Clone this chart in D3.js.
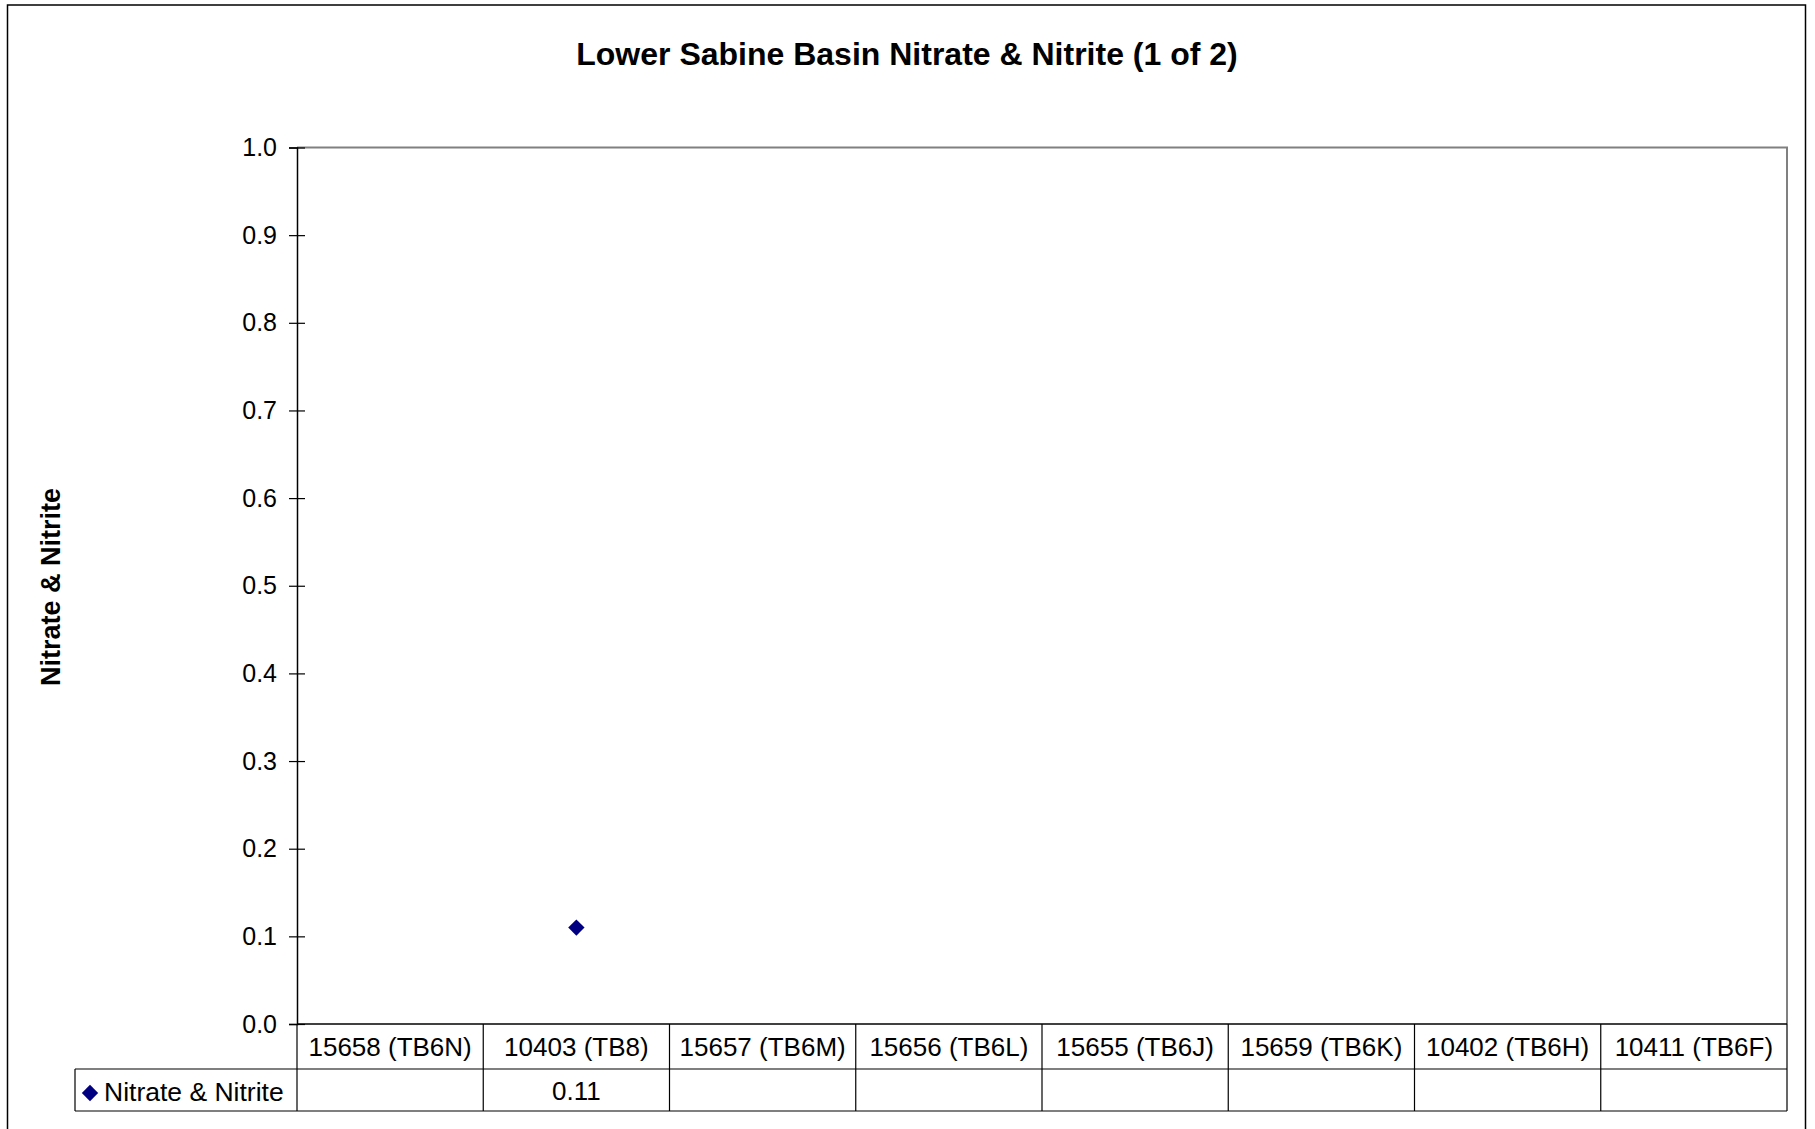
<!DOCTYPE html>
<html>
<head>
<meta charset="utf-8">
<script src="https://cdn.jsdelivr.net/npm/d3@7"></script>
<style>
  body { margin: 0; background: #fff; }
  svg { display: block; font-family: "Liberation Sans", Arial, sans-serif; }
</style>
</head>
<body>
<div id="chart"></div>
<script>
// data
var categories = ["15658 (TB6N)", "10403 (TB8)", "15657 (TB6M)", "15656 (TB6L)",
                  "15655 (TB6J)", "15659 (TB6K)", "10402 (TB6H)", "10411 (TB6F)"];
var seriesName = "Nitrate & Nitrite";
var values = [null, 0.11, null, null, null, null, null, null];
var yTicks = [0, 0.1, 0.2, 0.3, 0.4, 0.5, 0.6, 0.7, 0.8, 0.9, 1.0];

var W = 1815, H = 1129;
var plot = {left: 297, top: 147.5, right: 1787, bottom: 1024};
var rowH1 = 45, rowH2 = 42, legendLeft = 75;

var svg = d3.select("#chart").append("svg")
    .attr("width", W)
    .attr("height", H);

// outer frame
svg.append("rect")
    .attr("x", 7.5).attr("y", 5)
    .attr("width", 1798).attr("height", H + 10)
    .attr("fill", "none").attr("stroke", "#000").attr("stroke-width", 1.5);

// title
svg.append("text")
    .text("Lower Sabine Basin Nitrate & Nitrite (1 of 2)")
    .attr("x", 907).attr("y", 65)
    .attr("text-anchor", "middle")
    .style("font-weight", "bold")
    .style("font-size", "32px");

var x = d3.scaleBand()
    .domain(categories)
    .range([plot.left, plot.right])
    .padding(0);

var y = d3.scaleLinear()
    .domain([0, 1])
    .range([plot.bottom, plot.top]);

// plot area border (gray top/right)
svg.append("path")
    .attr("d", "M" + plot.left + "," + plot.top + "H" + plot.right + "V" + plot.bottom)
    .attr("fill", "none").attr("stroke", "#808080").attr("stroke-width", 2);

// Y axis
var yAxis = svg.append("g")
    .attr("transform", "translate(" + plot.left + ",0)")
    .call(d3.axisLeft(y).tickValues(yTicks).tickFormat(d3.format(".1f")).tickSize(8));
yAxis.select(".domain").attr("stroke", "#000").attr("stroke-width", 1.5);
yAxis.selectAll(".tick line").attr("x1", 8).attr("x2", -8).attr("stroke", "#000").attr("stroke-width", 1.2);
yAxis.selectAll(".tick text")
    .attr("x", -20)
    .style("font-size", "25px")
    .style("font-family", "Liberation Sans, Arial, sans-serif")
    .attr("fill", "#000");

// y axis title
svg.append("text")
    .text(seriesName)
    .attr("transform", "translate(60,587) rotate(-90)")
    .attr("text-anchor", "middle")
    .style("font-weight", "bold")
    .style("font-size", "27px");

// data table
var table = svg.append("g");
var tBottom = plot.bottom + rowH1 + rowH2;
// horizontal lines
table.append("line")
    .attr("x1", plot.left).attr("x2", plot.right)
    .attr("y1", plot.bottom).attr("y2", plot.bottom)
    .attr("stroke", "#000").attr("stroke-width", 1.5);
table.append("line")
    .attr("x1", legendLeft).attr("x2", plot.right)
    .attr("y1", plot.bottom + rowH1).attr("y2", plot.bottom + rowH1)
    .attr("stroke", "#000").attr("stroke-width", 1.2);
table.append("line")
    .attr("x1", legendLeft).attr("x2", plot.right)
    .attr("y1", tBottom).attr("y2", tBottom)
    .attr("stroke", "#000").attr("stroke-width", 1.2);
// vertical lines
var vx = [legendLeft, plot.left].concat(categories.map(function(c) { return x(c) + x.bandwidth(); }));
table.selectAll("line.v")
  .data(vx)
  .enter()
  .append("line")
    .attr("class", "v")
    .attr("x1", function(d) { return d; }).attr("x2", function(d) { return d; })
    .attr("y1", function(d) { return d === legendLeft ? plot.bottom + rowH1 : plot.bottom; })
    .attr("y2", tBottom)
    .attr("stroke", "#000").attr("stroke-width", 1.2);

// category labels
table.selectAll("text.cat")
  .data(categories)
  .enter()
  .append("text")
    .attr("class", "cat")
    .attr("x", function(d) { return x(d) + x.bandwidth() / 2; })
    .attr("y", plot.bottom + 32)
    .attr("text-anchor", "middle")
    .style("font-size", "26px")
    .text(function(d) { return d; });

// value cells
table.selectAll("text.val")
  .data(values)
  .enter()
  .append("text")
    .attr("class", "val")
    .attr("x", function(d, i) { return x(categories[i]) + x.bandwidth() / 2; })
    .attr("y", plot.bottom + rowH1 + 31)
    .attr("text-anchor", "middle")
    .style("font-size", "26px")
    .text(function(d) { return d == null ? "" : d; });

// legend key
var diamond = d3.symbol().type(d3.symbolDiamond2).size(170);
table.append("path")
    .attr("d", diamond())
    .attr("transform", "translate(90," + (plot.bottom + rowH1 + 24) + ")")
    .attr("fill", "#000080");
table.append("text")
    .attr("x", 104)
    .attr("y", plot.bottom + rowH1 + 32)
    .style("font-size", "26.5px")
    .text(seriesName);

// points
svg.selectAll("path.pt")
  .data(values.map(function(v, i) { return {c: categories[i], v: v}; })
    .filter(function(d) { return d.v != null; }))
  .enter()
  .append("path")
    .attr("class", "pt")
    .attr("d", diamond())
    .attr("transform", function(d) { return "translate(" + (x(d.c) + x.bandwidth() / 2) + "," + y(d.v) + ")"; })
    .attr("fill", "#000080");
</script>
</body>
</html>
